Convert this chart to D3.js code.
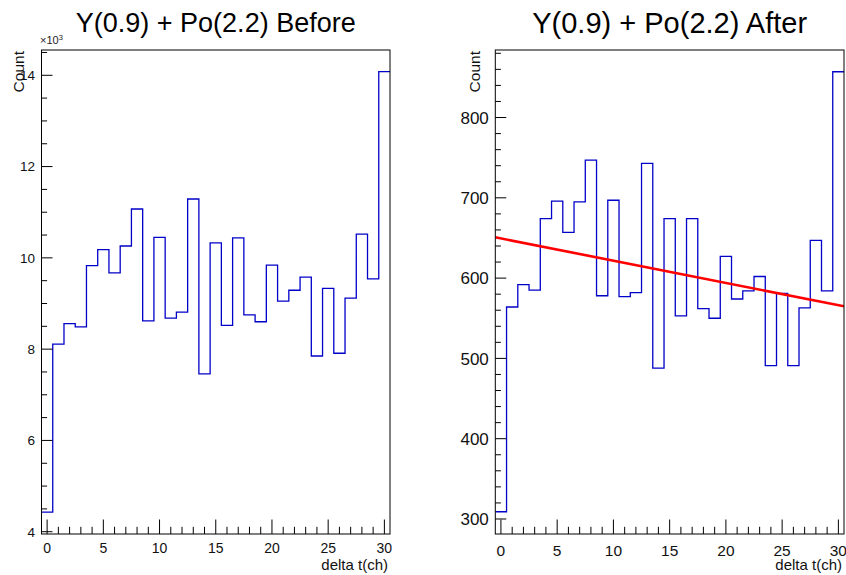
<!DOCTYPE html>
<html>
<head>
<meta charset="utf-8">
<script src="https://cdn.jsdelivr.net/npm/d3@7"></script>
<style>
  html, body { margin: 0; padding: 0; background: #fff; }
  svg { display: block; font-family: "Liberation Sans", Arial, sans-serif; }
</style>
</head>
<body>
<svg id="chart" width="846" height="575"></svg>
<script>
// ---- data ----
const bins = d3.range(0, 31); // delta t(ch) bin centres 0..30
const beforeCounts = [4430, 8110, 8560, 8490, 9830, 10180, 9670, 10260, 11070, 8620,
  10450, 8680, 8810, 11290, 7460, 10330, 8520, 10440, 8750, 8600,
  9840, 9050, 9290, 9580, 7850, 9330, 7910, 9120, 10520, 9540, 14080];
const afterCounts = [309, 564, 592, 585, 674, 696, 657, 695, 747, 578,
  697, 577, 582, 743, 488, 674, 553, 674, 562, 550,
  627, 574, 584, 602, 491, 581, 491, 563, 647, 584, 857];
const fitParams = [649.4, -2.77]; // p0 + p1 * x
const xTicks = [0, 5, 10, 15, 20, 25, 30];
const beforeYTicks = [4000, 6000, 8000, 10000, 12000, 14000];
const afterYTicks = [300, 400, 500, 600, 700, 800];
const titles = ["Y(0.9) + Po(2.2) Before", "Y(0.9) + Po(2.2) After"];
const xTitle = "delta t(ch)";
const yTitle = "Count";

const svg = d3.select("#chart");

function panel(cfg) {
  const g = svg.append("g");
  const x = d3.scaleLinear().domain([-0.5, 30.5]).range([cfg.x0, cfg.x1]);
  const y = d3.scaleLinear().domain(cfg.yDomain).range([cfg.y1, cfg.y0]);
  const clipId = "clip" + cfg.id;
  svg.append("clipPath").attr("id", clipId).append("rect")
    .attr("x", cfg.x0).attr("y", cfg.y0).attr("width", cfg.x1 - cfg.x0).attr("height", cfg.y1 - cfg.y0);

  // histogram step path
  const pts = cfg.values.map((v, i) => [bins[i] - 0.5, v]);
  pts.push([bins[bins.length - 1] + 0.5, cfg.values[cfg.values.length - 1]]);
  const line = d3.line().x(d => x(d[0])).y(d => y(d[1])).curve(d3.curveStepAfter);
  g.append("path").attr("d", line(pts)).attr("fill", "none")
    .attr("stroke", "#0000c8").attr("stroke-width", 1.3).attr("clip-path", `url(#${clipId})`);

  if (cfg.fit) {
    const fx = [-0.5, 30.5];
    g.append("path").attr("d", d3.line().x(d => x(d)).y(d => y(cfg.fit[0] + cfg.fit[1] * d))(fx))
      .attr("fill", "none").attr("stroke", "#ff0000").attr("stroke-width", 2.6)
      .attr("clip-path", `url(#${clipId})`);
  }

  // frame
  g.append("rect").attr("x", cfg.x0).attr("y", cfg.y0)
    .attr("width", cfg.x1 - cfg.x0).attr("height", cfg.y1 - cfg.y0)
    .attr("fill", "none").attr("stroke", "#000").attr("stroke-width", 1);

  // x axis ticks
  const xMinor = d3.range(0, 31);
  g.selectAll(null).data(xMinor).join("line")
    .attr("x1", d => x(d)).attr("x2", d => x(d))
    .attr("y1", cfg.y1).attr("y2", d => cfg.y1 - (d % 5 === 0 ? 14.5 : 7.2))
    .attr("stroke", "#000").attr("stroke-width", 1);
  g.selectAll(null).data(xTicks).join("text")
    .attr("x", d => x(d)).attr("y", cfg.xLabY)
    .attr("text-anchor", "middle").attr("font-size", cfg.xLabSize).attr("fill", "#111")
    .text(d => d);

  // y axis ticks
  const yd = y.domain();
  const minor = d3.range(Math.ceil(yd[0] / cfg.yMinorStep) * cfg.yMinorStep, yd[1], cfg.yMinorStep);
  g.selectAll(null).data(minor).join("line")
    .attr("x1", cfg.x0).attr("x2", d => cfg.x0 + (Math.abs(d / cfg.yMajorStep - Math.round(d / cfg.yMajorStep)) < 1e-6 ? 11 : 5.6))
    .attr("y1", d => y(d)).attr("y2", d => y(d))
    .attr("stroke", "#000").attr("stroke-width", 1);
  g.selectAll(null).data(cfg.yTicks).join("text")
    .attr("x", cfg.x0 - 6.5).attr("y", d => y(d)).attr("dy", "0.36em")
    .attr("text-anchor", "end").attr("font-size", cfg.yLabSize).attr("fill", "#111")
    .text(d => cfg.yFmt(d));

  // titles
  g.append("text").attr("x", (cfg.x0 + cfg.x1) / 2).attr("y", cfg.titleY)
    .attr("text-anchor", "middle").attr("font-size", cfg.titleSize).attr("fill", "#000")
    .text(cfg.title);
  g.append("text").attr("x", cfg.x1 - 2).attr("y", 569.5)
    .attr("text-anchor", "end").attr("font-size", 15).attr("fill", "#111")
    .text(xTitle);
  g.append("text").attr("transform", `translate(${cfg.yTitleX},51) rotate(-90)`)
    .attr("text-anchor", "end").attr("font-size", 15.5).attr("fill", "#111")
    .text(yTitle);
  return g;
}

const gl = panel({
  id: "L", x0: 41.5, x1: 390, y0: 50, y1: 534,
  yDomain: [3950, 14554], values: beforeCounts, yTicks: beforeYTicks,
  yMinorStep: 500, yMajorStep: 2000, yFmt: d => d / 1000,
  yLabSize: 13.5, xLabSize: 14, xLabY: 553, titleSize: 27, titleY: 31.5,
  title: titles[0], yTitleX: 24
});
// exponent label
const expo = gl.append("text").attr("x", 40).attr("y", 44).attr("font-size", 11).attr("fill", "#222");
expo.append("tspan").text("\u00d710");
expo.append("tspan").attr("font-size", 7.5).attr("dy", -4).text("3");

panel({
  id: "R", x0: 495.3, x1: 844, y0: 50, y1: 534,
  yDomain: [281.3, 884.1], values: afterCounts, yTicks: afterYTicks,
  yMinorStep: 20, yMajorStep: 100, yFmt: d => d, fit: fitParams,
  yLabSize: 17, xLabSize: 15.5, xLabY: 556, titleSize: 29, titleY: 33,
  title: titles[1], yTitleX: 480
});
</script>
</body>
</html>
